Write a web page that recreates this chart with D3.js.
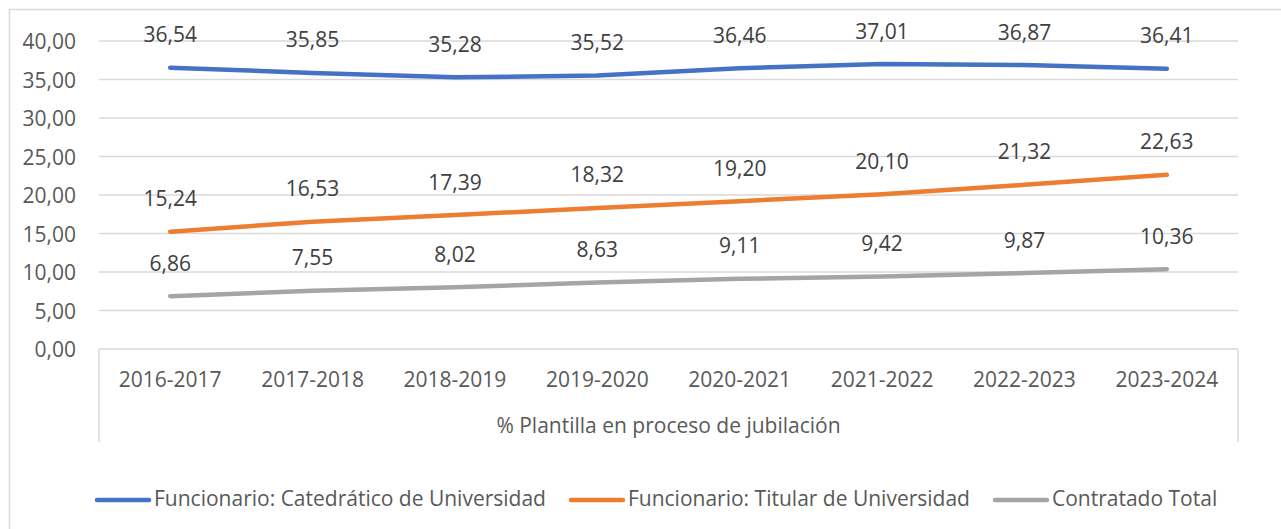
<!DOCTYPE html>
<html>
<head>
<meta charset="utf-8">
<script src="https://cdn.jsdelivr.net/npm/d3@7"></script>
<style>
  body { margin: 0; background: #fff; }
  svg { display: block; font-family: "Open Sans", sans-serif; }
</style>
</head>
<body>
<svg id="chart" width="1281" height="529"></svg>
<script>
// chart data
const categories = ["2016-2017", "2017-2018", "2018-2019", "2019-2020", "2020-2021", "2021-2022", "2022-2023", "2023-2024"];
const seriesNames = ["Funcionario: Catedrático de Universidad", "Funcionario: Titular de Universidad", "Contratado Total"];
const catedratico = [36.54, 35.85, 35.28, 35.52, 36.46, 37.01, 36.87, 36.41];
const titular = [15.24, 16.53, 17.39, 18.32, 19.20, 20.10, 21.32, 22.63];
const contratado = [6.86, 7.55, 8.02, 8.63, 9.11, 9.42, 9.87, 10.36];
const yTicks = [0, 5, 10, 15, 20, 25, 30, 35, 40];
const axisTitle = "% Plantilla en proceso de jubilación";
const colors = ["#4472C4", "#ED7D31", "#A5A5A5"];

const allSeries = [catedratico, titular, contratado];

// layout
const plotLeft = 99, plotRight = 1238, plotTop = 41, plotBottom = 349;
const catAxisBottom = 442;

const svg = d3.select("#chart");
const esLocale = d3.formatLocale({decimal: ",", thousands: ".", grouping: [3], currency: ["", " €"]});
const fmt = esLocale.format(".2f");

// outer border (runs past the right and bottom edges)
svg.append("rect")
    .attr("x", 9.5).attr("y", 9.5)
    .attr("width", 1300).attr("height", 560)
    .attr("fill", "none")
    .attr("stroke", "#d9d9d9")
    .attr("stroke-width", 1.5);

let xscale = d3.scaleBand()
    .domain(categories)
    .range([plotLeft, plotRight])
    .padding(0);
let yscale = d3.scaleLinear()
    .domain([0, 40])
    .range([plotBottom, plotTop]);
const cx = d => xscale(d) + xscale.bandwidth() / 2;

//horizontal gridlines
svg.append("g").selectAll("line").data(yTicks).enter()
    .append("line")
    .attr("x1", plotLeft).attr("x2", plotRight)
    .attr("y1", d => yscale(d)).attr("y2", d => yscale(d))
    .style("stroke", "#d9d9d9")
    .style("stroke-width", 1.5);

//y axis labels
let yaxis = d3.axisLeft(yscale).tickValues(yTicks).tickFormat(fmt).tickSize(0).tickPadding(0);
svg.append("g")
    .attr("transform", `translate(76, 0)`)
    .call(yaxis)
    .call(g => g.select(".domain").remove())
    .selectAll("text")
    .attr("dy", "0.36em")
    .style("font-family", "Open Sans")
    .style("font-size", "21px")
    .attr("fill", "#595959");

//category axis box
svg.append("g").selectAll("line").data([plotLeft, plotRight]).enter()
    .append("line")
    .attr("x1", d => d).attr("x2", d => d)
    .attr("y1", plotBottom).attr("y2", catAxisBottom)
    .style("stroke", "#d9d9d9")
    .style("stroke-width", 1.5);

let xaxis = d3.axisBottom(xscale).tickSize(0).tickPadding(0);
svg.append("g")
    .attr("transform", `translate(0, 387)`)
    .call(xaxis)
    .call(g => g.select(".domain").remove())
    .selectAll("text")
    .attr("dy", 0)
    .style("font-family", "Open Sans")
    .style("font-size", "21px")
    .attr("fill", "#595959");

svg.append("text")
    .attr("x", (plotLeft + plotRight) / 2)
    .attr("y", 433)
    .attr("text-anchor", "middle")
    .style("font-size", "21px")
    .attr("fill", "#595959")
    .text(axisTitle);

//series lines and data labels
let line = d3.line()
    .x((d, i) => cx(categories[i]))
    .y(d => yscale(d));

allSeries.forEach((values, s) => {
    svg.append("path")
        .datum(values)
        .attr("d", line)
        .attr("fill", "none")
        .attr("stroke", colors[s])
        .attr("stroke-width", 4.5)
        .attr("stroke-linecap", "round")
        .attr("stroke-linejoin", "round");

    svg.append("g").selectAll("text").data(values).enter()
        .append("text")
        .attr("x", (d, i) => cx(categories[i]))
        .attr("y", d => yscale(d) - 25.5)
        .attr("text-anchor", "middle")
        .style("font-size", "21px")
        .attr("fill", "#404040")
        .text(d => fmt(d));
});

//legend
let legend = svg.append("g").attr("transform", "translate(95, 0)");
let xpos = 0;
seriesNames.forEach((name, s) => {
    let item = legend.append("g").attr("transform", `translate(${xpos}, 0)`);
    item.append("line")
        .attr("x1", 2).attr("x2", 54)
        .attr("y1", 500).attr("y2", 500)
        .attr("stroke", colors[s])
        .attr("stroke-width", 4.5)
        .attr("stroke-linecap", "round");
    let t = item.append("text")
        .attr("x", 59)
        .attr("y", 506)
        .style("font-size", "21px")
        .attr("fill", "#595959")
        .text(name);
    xpos += 59 + t.node().getComputedTextLength() + 23;
});
</script>
</body>
</html>
